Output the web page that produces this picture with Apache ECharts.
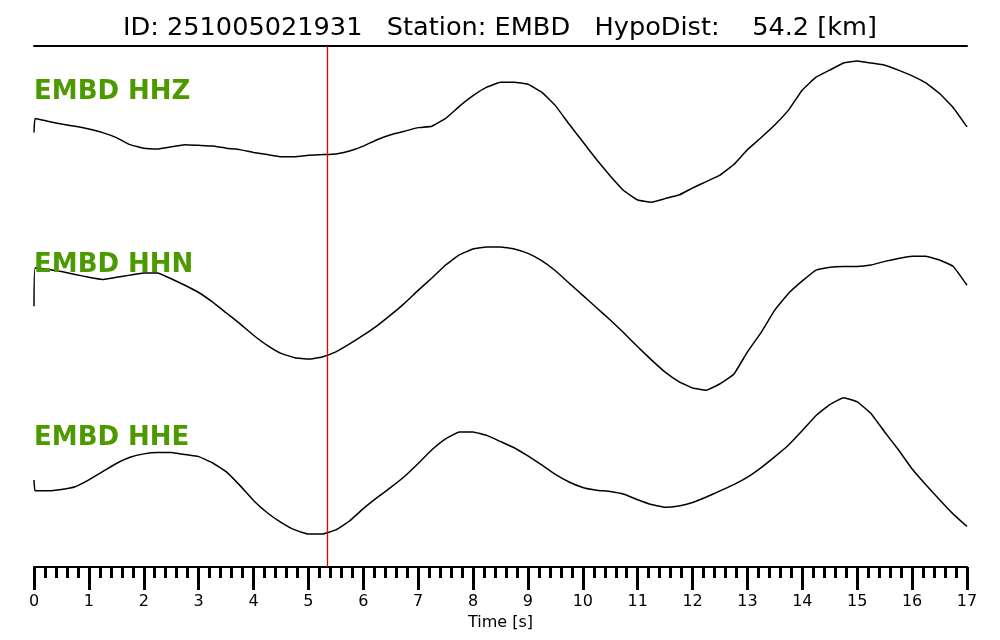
<!DOCTYPE html>
<html>
<head>
<meta charset="utf-8">
<script src="https://cdn.jsdelivr.net/npm/echarts@6/dist/echarts.min.js"></script>
<style>
  html, body { margin: 0; padding: 0; background: #fff; }
  #chart { width: 1000px; height: 640px; }
</style>
</head>
<body>
<div id="chart"></div>
<script>
// sample times [s]: first sample, then every 0.25 s
const times = [0, 0.02];
for (let t = 0.25; t <= 17.0001; t += 0.25) times.push(+t.toFixed(2));

const stationId = '251005021931';
const stationName = 'EMBD';
const hypoDist = 54.2;
const pickTime = 5.34;
const channels = ['HHZ', 'HHN', 'HHE'];

// normalized amplitudes
const hhz = [-0.01, 0.19, 0.15, 0.11, 0.08, 0.04, -0.01, -0.08, -0.18, -0.23, -0.24, -0.21,
  -0.18, -0.19, -0.20, -0.23, -0.25, -0.29, -0.32, -0.35, -0.35, -0.33, -0.32, -0.31,
  -0.27, -0.20, -0.11, -0.04, 0.01, 0.06, 0.08, 0.19, 0.36, 0.51, 0.63, 0.70, 0.70,
  0.67, 0.56, 0.37, 0.11, -0.14, -0.39, -0.62, -0.83, -0.96, -0.99, -0.94, -0.89,
  -0.79, -0.70, -0.61, -0.46, -0.25, -0.08, 0.10, 0.31, 0.59, 0.77, 0.87, 0.97, 1.00,
  0.97, 0.94, 0.87, 0.79, 0.69, 0.54, 0.34, 0.07];

const hhn = [0.17, 0.70, 0.68, 0.65, 0.61, 0.57, 0.54, 0.57, 0.60, 0.63, 0.63, 0.55,
  0.46, 0.36, 0.23, 0.08, -0.07, -0.23, -0.37, -0.48, -0.54, -0.56, -0.53, -0.46,
  -0.35, -0.23, -0.10, 0.05, 0.21, 0.39, 0.56, 0.74, 0.88, 0.96, 0.99, 0.99, 0.96,
  0.90, 0.80, 0.66, 0.49, 0.32, 0.15, -0.02, -0.20, -0.39, -0.57, -0.74, -0.87,
  -0.96, -0.99, -0.90, -0.77, -0.46, -0.19, 0.12, 0.35, 0.52, 0.67, 0.71, 0.72, 0.72,
  0.74, 0.79, 0.83, 0.86, 0.86, 0.81, 0.72, 0.46];

const hhe = [-0.20, -0.36, -0.36, -0.34, -0.30, -0.20, -0.08, 0.04, 0.13, 0.18, 0.20, 0.20,
  0.17, 0.14, 0.05, -0.08, -0.28, -0.50, -0.68, -0.82, -0.93, -0.99, -0.99, -0.93,
  -0.80, -0.62, -0.46, -0.31, -0.15, 0.04, 0.24, 0.40, 0.50, 0.50, 0.45, 0.36, 0.27,
  0.15, 0.02, -0.12, -0.23, -0.31, -0.35, -0.37, -0.41, -0.49, -0.56, -0.60, -0.58,
  -0.53, -0.45, -0.36, -0.27, -0.16, -0.02, 0.14, 0.31, 0.52, 0.74, 0.90, 1.00, 0.94,
  0.77, 0.50, 0.24, -0.04, -0.27, -0.49, -0.70, -0.88];

const traces = [hhz, hhn, hhe];
// vertical placement of each trace (axis units) and its gain
const offsets = [-1.21, -3.84, -5.92];
const gains = [1.0, 1.02, 0.965];
const labelTops = [74, 247, 420];

const chart = echarts.init(document.getElementById('chart'));
const font = "'DejaVu Sans', sans-serif";

const option = {
  animation: false,
  backgroundColor: '#fff',
  textStyle: { fontFamily: font },
  title: [
    {
      text: `ID: ${stationId}   Station: ${stationName}   HypoDist:    ${hypoDist} [km]`,
      left: 'center',
      top: 10,
      textStyle: { fontFamily: font, fontSize: 25.6, fontWeight: 'normal', color: '#000' },
    },
  ].concat(channels.map((ch, i) => ({
    text: `${stationName} ${ch}`,
    left: 29,
    top: labelTops[i],
    textStyle: { fontFamily: font, fontSize: 26, fontWeight: 'bold', color: '#4c9a00' },
  }))),
  grid: { left: 34, right: 33, top: 46, bottom: 73, containLabel: false },
  xAxis: [
    {
      type: 'value',
      min: 0,
      max: 17,
      interval: 1,
      position: 'bottom',
      name: 'Time [s]',
      nameLocation: 'middle',
      nameGap: 40,
      nameTextStyle: { fontFamily: font, fontSize: 16, color: '#000' },
      axisLine: { onZero: false, lineStyle: { color: '#000', width: 2 } },
      axisTick: { show: true, length: 23, lineStyle: { color: '#000', width: 3 } },
      minorTick: { show: true, splitNumber: 5, length: 11, lineStyle: { color: '#000', width: 3 } },
      axisLabel: { margin: 27, fontFamily: font, fontSize: 16, color: '#000' },
      splitLine: { show: false },
    },
    {
      type: 'value',
      min: 0,
      max: 17,
      position: 'top',
      axisLine: { onZero: false, lineStyle: { color: '#000', width: 2 } },
      axisTick: { show: false },
      axisLabel: { show: false },
      splitLine: { show: false },
    },
  ],
  yAxis: { type: 'value', min: -7.34, max: 0, show: false },
  series: traces.map((amp, i) => ({
    name: channels[i],
    type: 'line',
    xAxisIndex: 0,
    showSymbol: false,
    symbol: 'none',
    smooth: 0.1,
    lineStyle: { color: '#000', width: 1.5 },
    data: times.map((t, k) => [t, offsets[i] + amp[k] * gains[i]]),
    markLine: i === 0 ? {
      silent: true,
      symbol: ['none', 'none'],
      label: { show: false },
      lineStyle: { color: '#e00000', width: 1.3, type: 'solid' },
      data: [{ xAxis: pickTime }],
    } : undefined,
  })),
};

chart.setOption(option);
</script>
</body>
</html>
